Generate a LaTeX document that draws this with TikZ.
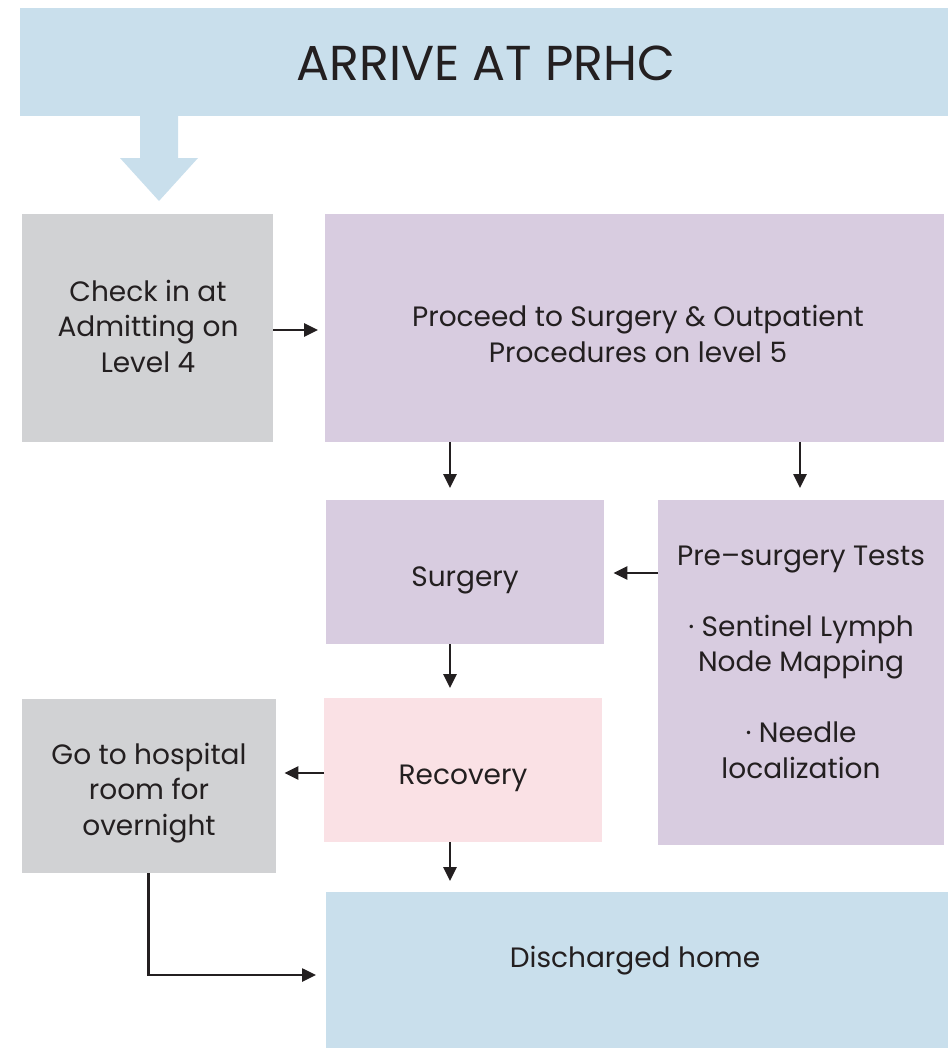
\documentclass[tikz,border=0pt]{standalone}
\usepackage{fontspec}
\setmainfont{Poppins}
\usetikzlibrary{arrows.meta,calc}
\definecolor{cblue}{HTML}{C9DFEC}
\definecolor{cgray}{HTML}{D1D2D4}
\definecolor{cpurple}{HTML}{D8CCE0}
\definecolor{cpink}{HTML}{FAE1E5}
\definecolor{ctext}{HTML}{231F20}
\begin{document}
\begin{tikzpicture}[x=1pt,y=-1pt,
  box/.style={anchor=north west,inner sep=0pt},
  lbl/.style={anchor=center,inner sep=0pt,align=center,text=ctext,
    font=\fontsize{28}{35.5}\selectfont},
  arr/.style={-{Triangle[length=14pt,width=13pt]},line width=2.6pt,draw=ctext}]
\useasboundingbox (0,0) rectangle (948,1049);
% banner
\node[box,fill=cblue,minimum width=928pt,minimum height=108pt] (arrive) at (20,8) {};
\node[lbl,font=\fontsize{49}{55}\selectfont] (arrivet) at (486,63) {ARRIVE AT PRHC};
% block arrow
\fill[cblue] (140,116) -- (178,116) -- (178,158) -- (198,158) -- (159,201)
  -- (120,158) -- (140,158) -- cycle;
\node[box,fill=cgray,minimum width=251pt,minimum height=228pt] (check) at (22,214) {};
\node[lbl] (checkt) at (148,326) {Check in at\\Admitting on\\Level 4};
\node[box,fill=cpurple,minimum width=619pt,minimum height=228pt] (proceed) at (325,214) {};
\node[lbl] (proceedt) at (638,334) {Proceed to Surgery \& Outpatient\\Procedures on level 5};
\node[box,fill=cpurple,minimum width=278pt,minimum height=144pt] (surgery) at (326,500) {};
\node[lbl] (surgeryt) at (465,580) {Surgery};
\node[box,fill=cpurple,minimum width=286pt,minimum height=345pt] (pre) at (658,500) {};
\node[lbl] (pret) at (801,662)
  {Pre–surgery Tests\\[35.5pt]· Sentinel Lymph\\Node Mapping\\[35.5pt]· Needle\\localization};
\node[box,fill=cpink,minimum width=278pt,minimum height=144pt] (recovery) at (324,698) {};
\node[lbl] (recoveryt) at (463,778) {Recovery};
\node[box,fill=cgray,minimum width=254pt,minimum height=174pt] (hospital) at (22,699) {};
\node[lbl] (hospitalt) at (149,793) {Go to hospital\\room for\\overnight};
\node[box,fill=cblue,minimum width=622pt,minimum height=156pt] (home) at (326,892) {};
\node[lbl] (homet) at (635,961) {Discharged home};
% connectors
\coordinate (xa) at (450,0);
\coordinate (xb) at (800,0);
\draw[arr,shorten >=7pt] (check.east |- 0,330) -- (proceed.west |- 0,330);
\draw[arr,shorten >=12pt] (xa |- proceed.south) -- (xa |- surgery.north);
\draw[arr,shorten >=12pt] (xb |- proceed.south) -- (xb |- pre.north);
\draw[arr,shorten >=9pt] (pre.west |- 0,573) -- (surgery.east |- 0,573);
\draw[arr,shorten >=10pt] (xa |- surgery.south) -- (xa |- recovery.north);
\draw[arr,shorten >=8pt] (recovery.west |- 0,773) -- (hospital.east |- 0,773);
\draw[arr,shorten >=11pt] (xa |- recovery.south) -- (xa |- home.north);
\coordinate (hb) at ($(hospital.south)+(-1,0)$);
\draw[arr,shorten >=10pt] (hb) |- (home.west |- 0,975);
\end{tikzpicture}
\end{document}
